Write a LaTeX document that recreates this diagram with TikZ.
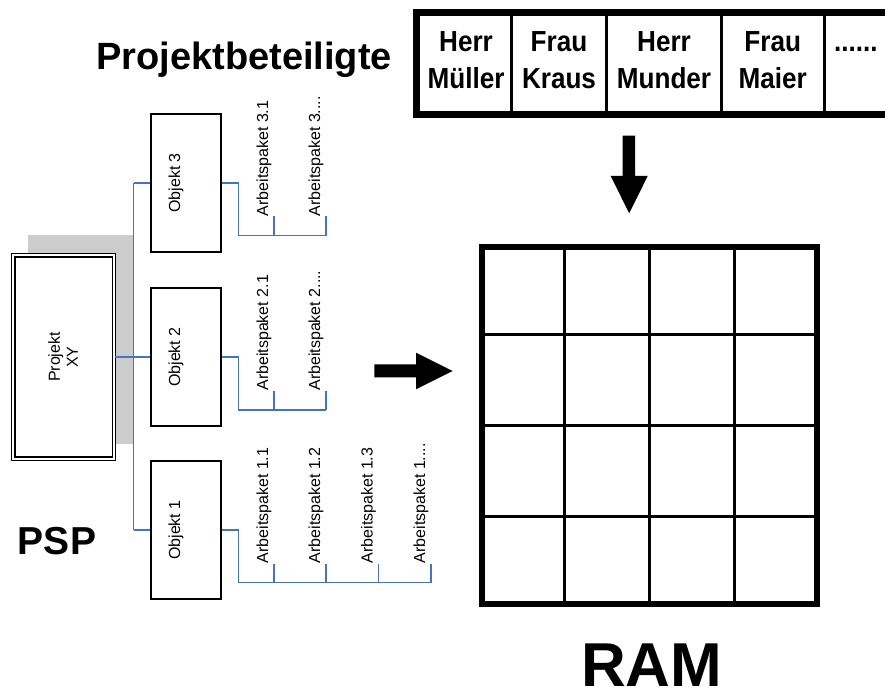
\documentclass[tikz,border=0pt]{standalone}
\usepackage{fontspec}
\setmainfont{Liberation Sans}
\usetikzlibrary{calc}
\definecolor{linkblue}{RGB}{68,114,196}
\definecolor{shadowgray}{RGB}{204,204,204}
\newcommand{\celltwo}[2]{\scalebox{0.9}[1]{\begin{tabular}{@{}c@{}}#1\\#2\end{tabular}}}
\begin{document}
\begin{tikzpicture}[x=1pt,y=-1pt,
  objbox/.style={draw=black, line width=1.2pt, fill=white, minimum width=70pt, minimum height=138pt, inner sep=0pt},
  smalltxt/.style={font=\fontsize{16}{18}\selectfont, inner sep=0pt},
  aplabel/.style={smalltxt, rotate=90, anchor=base west},
  link/.style={draw=linkblue, line width=1.4pt},
  celltxt/.style={font=\bfseries\fontsize{29}{36.7}\selectfont, inner sep=0pt},
  titletxt/.style={font=\bfseries\fontsize{38}{44}\selectfont, inner sep=0pt, anchor=base},
  blockarrow/.style={fill=black}
]
\useasboundingbox (0,0) rectangle (885,700);

% ---------- PSP ----------
\fill[shadowgray] (28,235) rectangle (133,444);
\node[draw=black, double, double distance=2pt, line width=1.3pt, fill=white,
      minimum width=100.6pt, minimum height=203.5pt, inner sep=0pt] (proj) at (63.7,357) {};
\node[smalltxt, rotate=90, align=center] (projtxt) at (63,357) {Projekt\\XY};

\node[objbox] (o3) at (186,183) {};
\node[objbox] (o2) at (186,357) {};
\node[objbox] (o1) at (186,530) {};
\node[smalltxt, rotate=90] (o3t) at (176,183) {Objekt 3};
\node[smalltxt, rotate=90] (o2t) at (176,357) {Objekt 2};
\node[smalltxt, rotate=90] (o1t) at (176,530) {Objekt 1};

\coordinate (bus3) at (133.5,183);
\coordinate (bus1) at (133.5,530);
\draw[link] (bus3) -- (bus1);
\draw[link] (bus3) -- (o3.west);
\draw[link] (bus1) -- (o1.west);
\draw[link] (proj.east) -- (o2.west);

% group 3
\coordinate (s3) at (238.3,235.7);
\coordinate (t31) at (274,235.7);
\coordinate (t32) at (326,235.7);
\node[aplabel] (a31) at (268,216.5) {Arbeitspaket 3.1};
\node[aplabel] (a32) at (320,216.5) {Arbeitspaket 3....};
\draw[link] (o3.east) -| (s3) -- (t32);
\draw[link] (t31) -- (t31 |- a31.west);
\draw[link] (t32) -- (t32 |- a32.west);

% group 2
\coordinate (s2) at (238.3,410);
\coordinate (t21) at (274,410);
\coordinate (t22) at (326,410);
\node[aplabel] (a21) at (268,390.8) {Arbeitspaket 2.1};
\node[aplabel] (a22) at (320,390.8) {Arbeitspaket 2....};
\draw[link] (o2.east) -| (s2) -- (t22);
\draw[link] (t21) -- (t21 |- a21.west);
\draw[link] (t22) -- (t22 |- a22.west);

% group 1
\coordinate (s1) at (238.3,582.7);
\coordinate (t11) at (274,582.7);
\coordinate (t12) at (326,582.7);
\coordinate (t13) at (378.7,582.7);
\coordinate (t14) at (431,582.7);
\node[aplabel] (a11) at (268,563.5) {Arbeitspaket 1.1};
\node[aplabel] (a12) at (320,563.5) {Arbeitspaket 1.2};
\node[aplabel] (a13) at (372.7,563.5) {Arbeitspaket 1.3};
\node[aplabel] (a14) at (425,563.5) {Arbeitspaket 1....};
\draw[link] (o1.east) -| (s1) -- (t14);
\draw[link] (t11) -- (t11 |- a11.west);
\draw[link] (t12) -- (t12 |- a12.west);
\draw[link] (t13) -- (t13 |- a13.west);
\draw[link] (t14) -- (t14 |- a14.west);

\node[titletxt, font=\bfseries\fontsize{39}{44}\selectfont] (psp) at (57,554) {PSP};

% ---------- arrows ----------
\fill[blockarrow] (374.3,364.3) -- (416,364.3) -- (416,352.7) -- (452.7,371) -- (416,389.3) -- (416,377.3) -- (374.3,377.3) -- cycle;
\fill[blockarrow] (622.7,135.7) -- (635,135.7) -- (635,176) -- (647.7,176) -- (629.2,213.3) -- (610.7,176) -- (622.7,176) -- cycle;

% ---------- Projektbeteiligte table ----------
\node[titletxt] (pbt) at (244,70) {Projektbeteiligte};
\draw[line width=7pt] (416.7,12.5) rectangle (905,115);
\foreach \xx in {511.7,606.7,721,824.5} \draw[line width=3pt] (\xx,12.5) -- (\xx,115);
\node[celltxt] (c1) at (466,63) {\celltwo{Herr}{Müller}};
\node[celltxt] (c2) at (559,63) {\celltwo{Frau}{Kraus}};
\node[celltxt] (c3) at (664,63) {\celltwo{Herr}{Munder}};
\node[celltxt] (c4) at (772.7,63) {\celltwo{Frau}{Maier}};
\node[celltxt, anchor=base west] (c5) at (834,52) {\scalebox{0.9}[1]{......}};

% ---------- RAM matrix ----------
\node[draw=black, line width=6pt, minimum width=335pt, minimum height=357pt, inner sep=0pt] (ram) at (649.5,425.5) {};
\foreach \f in {0.25,0.5,0.75} {
  \draw[line width=3.2pt] ($(ram.north west)!\f!(ram.north east)$) -- ($(ram.south west)!\f!(ram.south east)$);
  \draw[line width=3.2pt] ($(ram.north west)!\f!(ram.south west)$) -- ($(ram.north east)!\f!(ram.south east)$);
}
\node[titletxt, font=\bfseries\fontsize{62}{66}\selectfont] (ramt) at (651.7,686) {RAM};
\end{tikzpicture}
\end{document}
